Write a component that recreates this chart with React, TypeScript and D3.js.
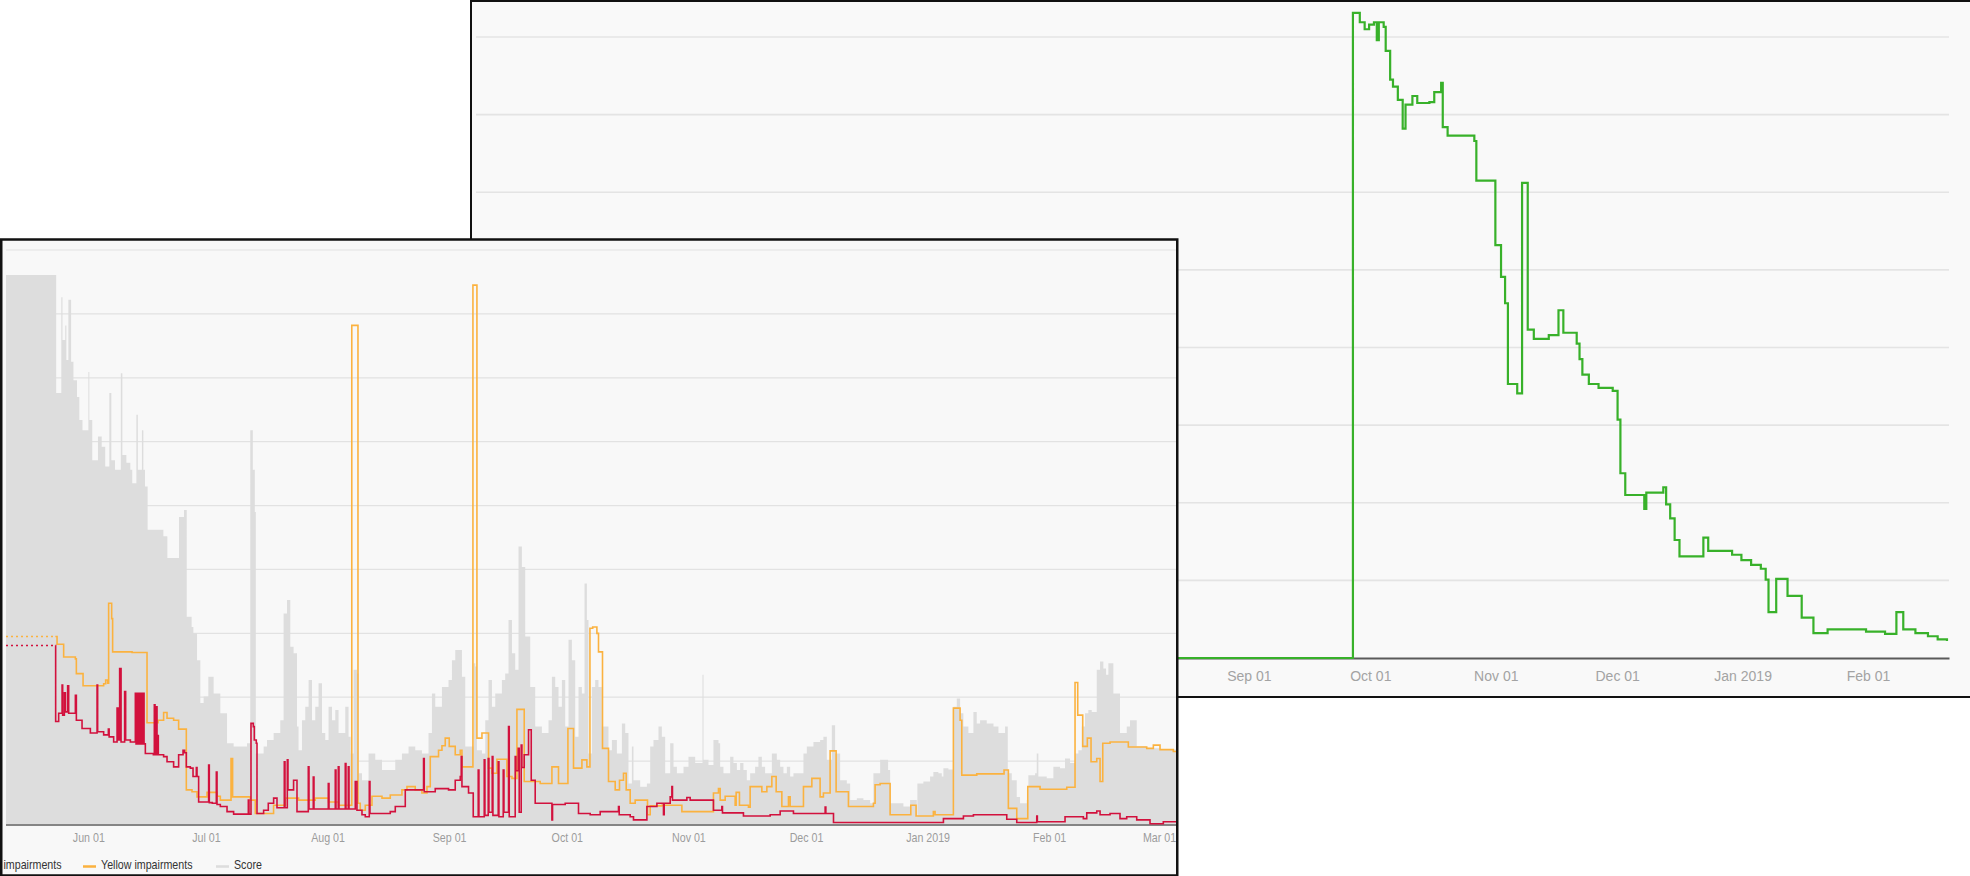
import React, { useEffect, useRef } from "react";
import * as d3 from "d3";

// ---- back chart (green line), x = days counted from 2018-09-01 ----
const greenBase = "2018-09-01";
const greenPoints: [number, number][] = [
  [-191, 0], [25.7, 83.1], [27.4, 81.9], [28.6, 81.0], [29.7, 81.6], [30.9, 81.9],
  [31.6, 79.6], [32.1, 81.9], [33.3, 81.3], [33.8, 78.2], [34.9, 74.5], [35.6, 73.6],
  [36.8, 71.9], [38.0, 68.2], [38.7, 71.3], [40.4, 72.4], [41.6, 71.5], [44.6, 71.6],
  [45.8, 72.9], [47.5, 74.1], [47.9, 68.4], [49.1, 67.3], [55.7, 66.6], [56.2, 61.5],
  [60.9, 53.2], [62.3, 49.1], [63.3, 45.7], [64.0, 35.3], [66.3, 34.1], [67.5, 61.2],
  [68.9, 42.3], [70.4, 41.1], [74.1, 41.6], [76.5, 44.8], [77.7, 41.9], [81.0, 40.5],
  [81.7, 38.5], [82.4, 36.5], [84.0, 35.3], [86.4, 34.8], [89.9, 34.4], [91.1, 30.7],
  [91.8, 23.8], [93.0, 21.0], [97.7, 19.2], [98.2, 21.3], [102.4, 22.0], [103.1, 19.8],
  [104.1, 18.0], [105.2, 15.2], [106.4, 13.1], [112.3, 15.5], [113.5, 13.8], [119.4, 13.3],
  [121.7, 12.6], [124.1, 12.0], [126.5, 11.5], [127.7, 10.1], [128.4, 5.9], [130.3, 10.2],
  [133.1, 8.0], [136.6, 5.2], [139.5, 3.2], [143.0, 3.7], [152.5, 3.4], [157.2, 3.1],
  [160.0, 5.9], [161.7, 3.7], [164.7, 3.2], [167.8, 2.8], [170.2, 2.4], [172.5, 2.2],
];
const backDomain = ["2018-02-22", "2019-02-21"];
const backTicks = [
  "2018-03-01", "2018-04-01", "2018-05-01", "2018-06-01", "2018-07-01", "2018-08-01",
  "2018-09-01", "2018-10-01", "2018-11-01", "2018-12-01", "2019-01-01", "2019-02-01",
];
const backGrid = [10, 20, 30, 40, 50, 60, 70, 80];

// ---- front chart, x = days counted from 2018-06-01 ----
const frontBase = "2018-06-01";
const frontDomain = ["2018-05-11", "2019-03-01"];
const frontTicks = [
  "2018-06-01", "2018-07-01", "2018-08-01", "2018-09-01", "2018-10-01",
  "2018-11-01", "2018-12-01", "2019-01-01", "2019-02-01", "2019-03-01",
];
const frontGrid = [10, 20, 30, 40, 50, 60, 70, 80, 90];

const redDotted: [number, number][] = [[-21, 28.1], [-8.41, 28.1]];
const yellowDotted: [number, number][] = [[-21, 29.5], [-8.41, 29.5]];

const redImpairments: [number, number][] = [
  [-8.41, 28.1], [-8.34, 16.2], [-7.57, 17.5], [-6.7, 21.9], [-6.55, 17.2], [-6.12, 20.7],
  [-5.86, 17.7], [-5.28, 21.8], [-5.02, 17.5], [-3.31, 20.3], [-3.06, 16.4], [-1.61, 15.1],
  [0.51, 14.4], [2.22, 21.9], [2.37, 14.6], [3.9, 14.1], [5.1, 15.0], [5.3, 13.8],
  [6.45, 13.0], [7.32, 18.3], [7.57, 13.3], [7.98, 24.5], [8.34, 13.0], [9.25, 20.9],
  [9.51, 13.3], [10.71, 13.0], [11.98, 20.6], [12.16, 12.7], [12.49, 20.6], [12.67, 12.7],
  [13.0, 20.6], [13.18, 12.7], [13.51, 20.6], [13.69, 12.7], [14.02, 20.6], [14.2, 12.7],
  [14.53, 11.2], [16.57, 11.0], [16.82, 18.8], [17.0, 11.0], [17.33, 18.5], [17.51, 11.0],
  [17.66, 14.0], [17.84, 11.0], [19.19, 10.7], [20.06, 9.9], [21.74, 9.1], [23.02, 11.0],
  [24.14, 11.7], [24.55, 11.3], [24.98, 9.1], [26.0, 8.9], [26.69, 7.6], [27.53, 9.0],
  [27.71, 7.6], [28.12, 3.6], [30.67, 9.4], [30.84, 3.5], [31.61, 3.4], [32.63, 8.3],
  [32.81, 3.2], [33.65, 2.9], [35.36, 2.1], [37.04, 1.7], [40.79, 3.9], [40.96, 1.7],
  [41.47, 15.9], [42.06, 15.4], [42.31, 13.3], [42.82, 12.8], [43.0, 1.8], [44.69, 2.3],
  [45.88, 3.4], [47.24, 4.2], [48.1, 2.7], [49.96, 9.9], [50.14, 2.7], [50.73, 10.2],
  [50.9, 5.5], [52.33, 7.0], [53.2, 2.1], [56.08, 9.1], [56.26, 2.5], [57.35, 7.5],
  [57.53, 2.5], [61.18, 6.5], [61.36, 2.5], [62.96, 8.6], [63.14, 2.5], [63.73, 9.1],
  [63.91, 2.5], [65.51, 9.6], [65.69, 2.5], [66.28, 9.1], [66.46, 2.5], [68.06, 6.8],
  [68.49, 2.3], [69.77, 1.6], [70.61, 1.3], [71.63, 6.8], [71.81, 1.8], [76.98, 2.1],
  [78.26, 2.9], [80.81, 5.5], [85.47, 10.4], [85.65, 5.2], [88.45, 5.7], [91.84, 5.5],
  [93.55, 7.0], [94.83, 7.6], [95.08, 10.7], [95.26, 6.0], [96.94, 5.0], [98.14, 1.3],
  [99.41, 8.6], [99.59, 1.3], [100.94, 10.2], [101.12, 1.5], [101.96, 10.4], [102.14, 2.0],
  [102.98, 10.7], [103.16, 1.5], [104.51, 9.9], [104.69, 1.3], [105.79, 8.6], [105.97, 2.0],
  [107.14, 15.4], [107.32, 1.3], [108.84, 10.7], [109.02, 8.5], [109.61, 12.0], [109.86, 2.0],
  [110.37, 12.5], [110.55, 9.0], [111.14, 11.0], [112.24, 14.9], [112.93, 7.0], [113.94, 3.4],
  [118.2, 0.8], [118.36, 3.2], [121.59, 3.4], [124.98, 1.8], [127.96, 1.6], [130.51, 2.1],
  [135.18, 2.9], [135.36, 1.6], [138.16, 1.3], [139.0, 0.8], [142.42, 2.9], [144.97, 3.4],
  [146.65, 1.6], [146.83, 3.4], [148.36, 4.4], [148.79, 6.0], [148.94, 3.9], [152.61, 4.3],
  [153.45, 3.9], [159.39, 2.3], [161.53, 2.9], [161.69, 1.9], [167.04, 1.4], [173.85, 1.6],
  [176.4, 2.2], [179.79, 1.8], [187.87, 2.8], [188.05, 1.8], [190.0, 0.4], [218.03, 1.0],
  [223.13, 1.4], [225.68, 1.6], [234.18, 0.9], [236.73, 0.4], [241.83, 1.4], [241.98, 0.5],
  [249.04, 1.3], [253.71, 1.0], [254.58, 1.9], [257.13, 2.2], [257.97, 1.6], [260.52, 1.8],
  [263.06, 1.0], [264.77, 1.3], [267.32, 0.8], [270.71, 0.2], [274.1, 0.5], [278.4, 0.3],
];

const yellowImpairments: [number, number][] = [
  [-8.41, 29.5], [-7.98, 28.3], [-6.3, 26.3], [-3.31, 26.0], [-3.06, 23.7], [-1.35, 21.8],
  [3.9, 22.1], [4.41, 22.7], [4.92, 22.2], [5.17, 34.7], [5.94, 32.3], [6.19, 27.1],
  [11.14, 27.0], [14.96, 16.0], [17.77, 16.4], [19.19, 17.6], [20.06, 16.7], [21.74, 16.4],
  [23.02, 15.0], [24.98, 5.5], [26.43, 5.2], [27.71, 4.4], [30.26, 5.1], [32.81, 4.5],
  [33.65, 3.9], [36.38, 10.4], [36.78, 4.4], [41.29, 3.9], [42.57, 1.8], [47.23, 3.1],
  [50.22, 4.2], [53.61, 3.9], [57.86, 4.2], [61.25, 3.6], [63.8, 3.1], [67.17, 78.2],
  [68.75, 3.4], [69.33, 2.3], [70.61, 3.1], [72.32, 4.5], [74.87, 4.2], [76.98, 4.7],
  [79.96, 5.5], [81.24, 6.0], [83.35, 5.5], [85.06, 5.0], [86.34, 6.0], [87.18, 10.7],
  [89.29, 11.7], [90.16, 12.4], [91.0, 13.6], [92.02, 12.3], [93.55, 11.0], [94.83, 11.7],
  [95.26, 9.1], [98.06, 84.5], [99.08, 13.6], [100.36, 14.4], [102.04, 8.9], [102.91, 8.1],
  [104.18, 10.3], [106.73, 7.6], [108.01, 7.3], [109.28, 18.1], [111.14, 6.8], [115.22, 6.5],
  [118.2, 9.1], [119.88, 6.5], [122.28, 15.1], [123.71, 8.9], [125.85, 10.2], [127.12, 9.1],
  [127.9, 30.8], [128.6, 31.0], [129.67, 30.0], [130.08, 27.1], [131.1, 12.0], [132.63, 6.8],
  [134.34, 5.5], [135.43, 7.0], [136.45, 8.1], [137.14, 5.5], [138.16, 3.4], [139.43, 3.9],
  [142.57, 1.6], [143.26, 3.0], [146.24, 3.1], [151.34, 2.1], [159.39, 5.0], [160.67, 5.7],
  [161.1, 3.9], [162.38, 4.5], [164.93, 3.1], [165.18, 5.1], [166.02, 3.1], [168.32, 2.8],
  [168.75, 6.0], [171.73, 5.2], [173.01, 6.0], [174.28, 7.6], [175.38, 5.2], [176.83, 2.9],
  [178.52, 4.4], [178.95, 2.9], [182.34, 6.0], [184.48, 7.3], [186.59, 4.4], [187.43, 5.0],
  [189.14, 11.6], [190.67, 5.2], [193.81, 2.9], [200.18, 3.4], [200.61, 6.3], [201.89, 6.5],
  [204.44, 1.6], [209.71, 3.1], [211.06, 1.4], [215.47, 2.1], [215.9, 1.6], [220.57, 18.3],
  [222.28, 16.4], [222.71, 7.8], [226.53, 8.0], [233.49, 8.6], [234.59, 2.6], [236.73, 1.0],
  [239.54, 6.0], [242.67, 5.6], [249.48, 5.9], [251.59, 22.3], [252.28, 17.2], [253.55, 12.3],
  [254.73, 13.6], [255.67, 9.9], [257.13, 10.4], [257.97, 6.8], [258.66, 12.8], [260.52, 13.0],
  [265.18, 12.2], [269.87, 12.0], [271.56, 12.5], [273.26, 11.8], [276.65, 11.5], [278.4, 11.5],
];

const score: [number, number][] = [
  [-21, 86.1], [-8.2, 67.6], [-6.9, 82.6], [-6.6, 75.9], [-5.9, 78.2], [-5.6, 72.8],
  [-5.1, 82.2], [-4.4, 72.5], [-3.8, 69.6], [-2.9, 67.0], [-2.3, 63.4], [-1.5, 61.8],
  [0, 70.9], [0.25, 63.4], [1.0, 57.1], [2.45, 60.8], [3.4, 59.2], [4.3, 56.1],
  [5.35, 67.6], [5.86, 57.1], [6.8, 55.6], [8.28, 70.7], [8.67, 57.9], [9.7, 56.7],
  [10.7, 55.6], [11.2, 53.5], [12.24, 64.2], [12.62, 55.6], [13.66, 61.8], [14.02, 55.6],
  [14.45, 53.0], [15.12, 46.2], [19.12, 45.2], [20.14, 41.8], [23.12, 48.2], [24.39, 49.3],
  [25.08, 32.6], [26.33, 31.0], [26.77, 30.0], [27.71, 25.8], [28.55, 19.1], [29.39, 20.1],
  [30.59, 23.2], [31.94, 20.6], [33.65, 17.5], [35.36, 12.8], [37.04, 12.3], [40.45, 12.8],
  [41.29, 61.8], [41.93, 55.6], [42.44, 49.0], [42.7, 11.2], [44.69, 12.3], [45.55, 13.3],
  [47.24, 14.4], [48.94, 16.4], [49.78, 33.1], [50.65, 35.2], [51.49, 27.9], [52.33, 26.9],
  [53.2, 15.4], [53.6, 11.7], [54.47, 16.4], [55.31, 18.5], [56.16, 22.7], [57.02, 16.4],
  [57.86, 18.5], [58.7, 22.2], [59.57, 14.4], [60.41, 13.3], [61.25, 18.5], [62.12, 16.4],
  [62.96, 18.0], [63.8, 14.4], [65.51, 18.5], [66.35, 13.8], [66.91, 11.2], [67.63, 24.3],
  [68.49, 23.7], [68.9, 8.1], [69.77, 7.0], [71.45, 11.2], [73.16, 10.2], [74.87, 8.6],
  [78.26, 10.2], [79.96, 11.2], [81.65, 12.3], [83.35, 11.7], [85.06, 11.2], [86.74, 14.4],
  [87.61, 20.6], [88.45, 18.5], [90.16, 21.6], [91.84, 22.7], [92.71, 25.8], [93.55, 27.4],
  [95.26, 23.2], [96.1, 12.3], [98.22, 25.3], [98.65, 24.8], [99.08, 11.7], [100.36, 11.2],
  [101.2, 16.4], [102.04, 22.7], [102.91, 18.5], [103.75, 20.6], [105.45, 22.7], [106.29, 23.7],
  [107.14, 32.1], [108.01, 26.9], [108.84, 24.3], [109.69, 43.6], [110.55, 40.4], [111.39, 29.5],
  [112.67, 21.6], [113.94, 15.4], [115.65, 14.4], [117.33, 16.4], [118.2, 23.2], [119.04, 21.6],
  [119.88, 18.5], [120.75, 22.7], [121.59, 15.4], [122.43, 29.0], [123.3, 25.8], [124.14, 13.8],
  [124.98, 21.6], [125.85, 20.6], [126.51, 37.8], [127.12, 32.1], [127.53, 11.2], [128.4, 21.6],
  [129.24, 22.7], [130.08, 21.6], [130.94, 15.4], [132.63, 11.7], [133.49, 13.3], [134.77, 11.2],
  [136.04, 15.9], [136.89, 14.4], [137.73, 6.5], [138.6, 12.3], [139.0, 7.0], [140.71, 6.0],
  [142.42, 6.5], [143.26, 12.3], [144.1, 13.3], [145.37, 15.4], [146.24, 13.8], [147.08, 8.1],
  [148.36, 12.8], [149.2, 9.1], [150.06, 8.1], [151.76, 9.1], [153.03, 10.7], [154.73, 9.7],
  [156.59, 23.5], [156.85, 10.2], [158.12, 9.4], [159.39, 13.3], [160.67, 12.8], [161.1, 9.1],
  [161.94, 8.1], [163.65, 10.7], [164.49, 9.7], [165.36, 8.6], [166.2, 9.7], [167.04, 8.6],
  [167.9, 7.0], [168.75, 8.1], [170.02, 9.1], [170.86, 10.7], [171.73, 9.1], [172.57, 8.1],
  [174.28, 11.2], [175.55, 10.2], [176.4, 9.1], [177.24, 8.1], [178.11, 9.1], [178.95, 7.6],
  [179.79, 8.1], [182.34, 11.2], [183.2, 12.3], [184.89, 13.0], [186.59, 13.3], [187.43, 13.8],
  [188.3, 10.2], [189.57, 15.6], [190.42, 11.2], [191.69, 7.0], [193.4, 6.5], [194.24, 3.9],
  [195.95, 4.2], [197.63, 3.9], [199.34, 3.4], [200.18, 8.1], [201.89, 10.2], [203.92, 8.6],
  [204.44, 3.4], [207.83, 2.9], [209.53, 3.9], [211.24, 1.3], [211.39, 6.5], [212.92, 6.8],
  [214.63, 7.6], [215.47, 8.3], [216.74, 8.1], [217.61, 7.6], [218.03, 8.9], [219.3, 8.7],
  [220.57, 18.5], [221.44, 19.8], [222.28, 17.5], [223.12, 15.4], [224.4, 14.4], [225.68, 17.7],
  [226.53, 15.9], [227.38, 16.4], [229.08, 15.9], [230.79, 15.4], [232.06, 14.4], [233.75, 15.4],
  [234.44, 8.1], [235.46, 7.0], [236.73, 4.4], [237.57, 3.4], [239.28, 3.9], [239.69, 7.8],
  [241.4, 8.1], [241.83, 11.2], [242.24, 7.6], [244.38, 7.3], [246.06, 9.1], [247.77, 8.9],
  [249.04, 10.4], [250.32, 9.7], [251.59, 11.2], [252.44, 11.7], [253.3, 15.4], [254.14, 17.5],
  [254.98, 18.0], [255.85, 17.7], [257.13, 24.3], [257.97, 25.6], [258.81, 24.5], [259.5, 23.5],
  [260.09, 25.3], [261.36, 20.6], [263.06, 14.4], [264.77, 15.4], [265.61, 16.4], [267.32, 12.3],
  [269.87, 12.0], [273.26, 11.8], [278.4, 11.7],
];

// the left legend entry is cut by the screenshot edge: only its tail is visible
const legendItems = ["impairments", "Yellow impairments", "Score"];

const RED = "#d2113d";
const YELLOW = "#fbb23f";
const GREY = "#dddddd";
const GREEN = "#38b12a";
const FONT = "'Liberation Sans', Arial, sans-serif";

const App: React.FC = () => {
  const svgRef = useRef<SVGSVGElement | null>(null);

  useEffect(() => {
    const svg = d3.select(svgRef.current);
    svg.selectAll("*").remove();

    const parse = d3.utcParse("%Y-%m-%d");
    const shift = (base: string, d: number) => new Date(+parse(base)! + d * 864e5);
    const fmt = (d: Date) => (d.getUTCMonth() === 0 ? d3.utcFormat("%b %Y") : d3.utcFormat("%b %d"))(d);

    // ===== back chart =====
    const xB = d3.scaleUtc().domain(backDomain.map(s => parse(s)!)).range([476, 1949]);
    const yB = d3.scaleLinear().domain([0, 80]).range([658, 37]);

    svg.append("rect")
      .attr("x", 471).attr("y", 1).attr("width", 1502).attr("height", 696)
      .attr("fill", "#f9f9f9");

    svg.append("g")
      .selectAll("line")
      .data(backGrid)
      .join("line")
      .attr("x1", 476).attr("x2", 1949)
      .attr("y1", d => yB(d)).attr("y2", d => yB(d))
      .attr("stroke", "#e4e4e4").attr("stroke-width", 1.6);

    svg.append("g")
      .attr("transform", `translate(0,${yB(0)})`)
      .call(
        d3.axisBottom(xB)
          .tickValues(backTicks.map(s => parse(s)!))
          .tickFormat(d => fmt(d as Date))
          .tickSize(0)
      )
      .call(g => g.select(".domain").attr("stroke", "#5a5a5a").attr("stroke-width", 2))
      .call(g => g.selectAll("text")
        .attr("y", 22.5).attr("dy", 0)
        .attr("fill", "#a3a3a3")
        .style("font-family", FONT)
        .style("font-size", "14px"));

    const greenLine = d3.line<[number, number]>()
      .x(d => xB(shift(greenBase, d[0])))
      .y(d => yB(d[1]))
      .curve(d3.curveStepAfter);

    svg.append("path")
      .datum(greenPoints)
      .attr("d", greenLine)
      .attr("fill", "none")
      .attr("stroke", GREEN)
      .attr("stroke-width", 2.2);

    svg.append("rect")
      .attr("x", 471).attr("y", 1).attr("width", 1502).attr("height", 696)
      .attr("fill", "none").attr("stroke", "#111").attr("stroke-width", 2);

    // ===== front chart =====
    const xF = d3.scaleUtc().domain(frontDomain.map(s => parse(s)!)).range([6, 1159]);
    const yF = d3.scaleLinear().domain([0, 90]).range([825, 250]);

    const defs = svg.append("defs");
    defs.append("clipPath").attr("id", "frontClip")
      .append("rect").attr("x", 2).attr("y", 241).attr("width", 1174).attr("height", 634);

    svg.append("rect")
      .attr("x", 1.5).attr("y", 240).attr("width", 1175.5).attr("height", 635)
      .attr("fill", "#f8f8f8");

    const front = svg.append("g").attr("clip-path", "url(#frontClip)");

    front.append("g")
      .selectAll("line")
      .data(frontGrid)
      .join("line")
      .attr("x1", 6).attr("x2", 1180)
      .attr("y1", d => yF(d)).attr("y2", d => yF(d))
      .attr("stroke", "#e2e2e2").attr("stroke-width", 1.2);

    const fx = (d: [number, number]) => xF(shift(frontBase, d[0]));

    const area = d3.area<[number, number]>()
      .x(fx)
      .y0(yF(0))
      .y1(d => yF(d[1]))
      .curve(d3.curveStepAfter);

    front.append("path")
      .datum(score)
      .attr("d", area)
      .attr("fill", GREY);

    front.append("line")
      .attr("x1", 6).attr("x2", 1180)
      .attr("y1", yF(0)).attr("y2", yF(0))
      .attr("stroke", "#858585").attr("stroke-width", 1.8);

    const line = d3.line<[number, number]>()
      .x(fx)
      .y(d => yF(d[1]))
      .curve(d3.curveStepAfter);

    const series: [[number, number][], string, string | null][] = [
      [yellowDotted, YELLOW, "2,3"],
      [yellowImpairments, YELLOW, null],
      [redDotted, RED, "2,3"],
      [redImpairments, RED, null],
    ];
    series.forEach(([data, color, dash]) => {
      front.append("path")
        .datum(data)
        .attr("d", line)
        .attr("fill", "none")
        .attr("stroke", color)
        .attr("stroke-width", 1.6)
        .attr("stroke-dasharray", dash);
    });

    front.append("g")
      .attr("transform", `translate(0,${yF(0)})`)
      .call(
        d3.axisBottom(xF)
          .tickValues(frontTicks.map(s => parse(s)!))
          .tickFormat(d => fmt(d as Date))
          .tickSize(0)
      )
      .call(g => g.select(".domain").remove())
      .call(g => g.selectAll("text")
        .attr("y", 16.7).attr("dy", 0)
        .attr("transform", "scale(0.89,1)")
        .attr("fill", "#9c9c9c")
        .style("font-family", FONT)
        .style("font-size", "12px"));

    // legend
    const legendX = [-40, 83, 216];
    const legendColor = [RED, YELLOW, GREY];
    const legend = svg.append("g");
    legendItems.forEach((label, i) => {
      if (legendX[i] > 0) {
        legend.append("line")
          .attr("x1", legendX[i]).attr("x2", legendX[i] + 13)
          .attr("y1", 866.5).attr("y2", 866.5)
          .attr("stroke", legendColor[i]).attr("stroke-width", 2.5);
      }
      legend.append("text")
        .attr("transform", `translate(${i === 0 ? 3.5 : legendX[i] + 18},869) scale(0.89,1)`)
        .attr("fill", "#333")
        .style("font-family", FONT)
        .style("font-size", "12px")
        .text(label);
    });

    svg.append("rect")
      .attr("x", 1.25).attr("y", 239.5).attr("width", 1176).attr("height", 636)
      .attr("fill", "none").attr("stroke", "#111").attr("stroke-width", 2.5);
  }, []);

  return (
    <svg
      ref={svgRef}
      width={1970}
      height={876}
      style={{ position: "absolute", left: 0, top: 0, background: "#fff" }}
    />
  );
};

export default App;
